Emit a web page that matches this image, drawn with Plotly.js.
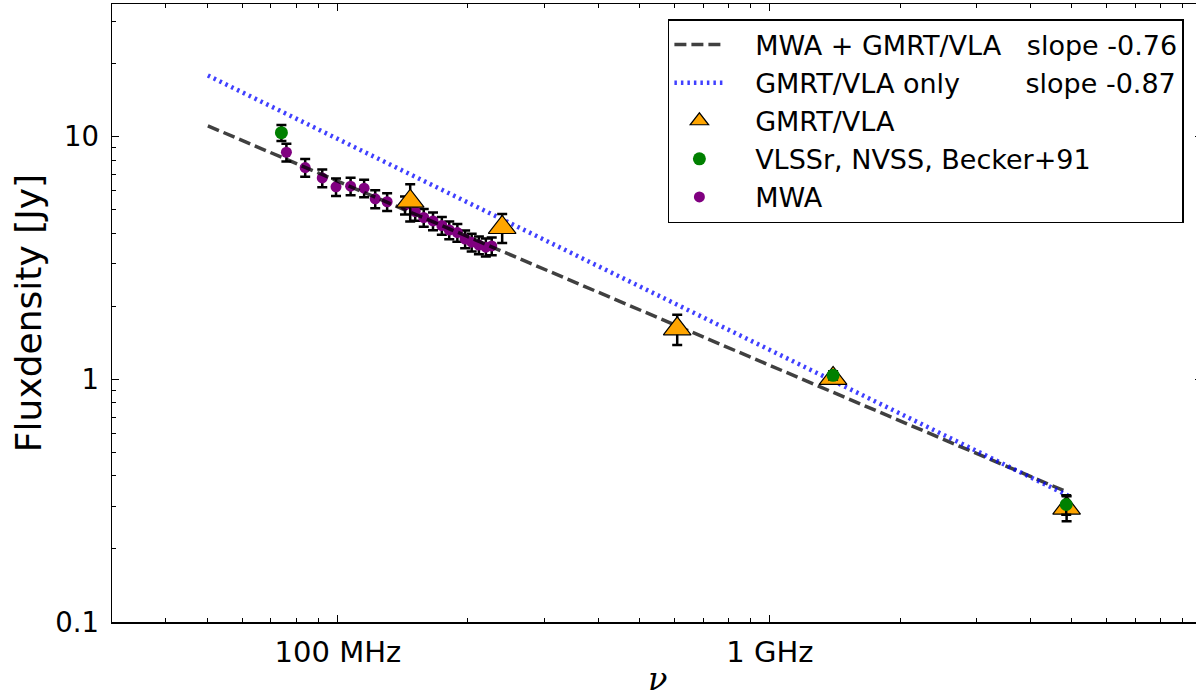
<!DOCTYPE html>
<html><head><meta charset="utf-8">
<script src="https://cdn.plot.ly/plotly-3.0.1.min.js"></script>
<style>html,body{margin:0;padding:0;overflow:hidden;background:#fff}#chart{width:1202px;height:697px}</style>
</head><body><div id="chart"></div>
<script>
// ---- data (frequency in MHz, flux density in Jy) ----
const mwaFreq = [76, 84, 92, 99, 107, 115, 122, 130, 143, 151, 158, 166, 174, 181, 189, 197, 204, 212, 220, 227];
const mwaFlux = [8.64, 7.47, 6.77, 6.22, 6.26, 6.14, 5.55, 5.40, 5.23, 4.92, 4.65, 4.50, 4.31, 4.13, 4.03, 3.79, 3.68, 3.58, 3.51, 3.55];
const mwaErr  = [0.72, 0.63, 0.57, 0.52, 0.52, 0.51, 0.47, 0.45, 0.44, 0.41, 0.39, 0.38, 0.36, 0.35, 0.34, 0.32, 0.31, 0.30, 0.30, 0.30];

const gmrtFreq = [147, 240, 610, 1400, 4860];
const gmrtFlux = [5.43, 4.23, 1.617, 1.01, 0.295];
const gmrtErr  = [0.95, 0.58, 0.23, 0.05, 0.035];

const surveyFreq = [74, 1400, 4850];
const surveyFlux = [10.4, 1.04, 0.305];
const surveyErr  = [0.78, 0.04, 0.028];

const fitAllFreq = [50, 4860];
const fitAllFlux = [11.1, 0.344];
const fitGmrtFreq = [50, 5000];
const fitGmrtFlux = [17.9, 0.326];

const xTickVals = [100, 1000];
const xTickText = ['100 MHz', '1 GHz'];
const xMinorVals = [40, 50, 60, 70, 80, 90, 200, 300, 400, 500, 600, 700, 800, 900, 2000, 3000, 4000, 5000, 6000, 7000, 8000, 9000];
const yTickVals = [0.1, 1, 10];
const yTickText = ['0.1', '1', '10'];
const yMinorVals = [0.2, 0.3, 0.4, 0.5, 0.6, 0.7, 0.8, 0.9, 2, 3, 4, 5, 6, 7, 8, 9, 20, 30];

const xTitle = '<i>ν</i>';
const yTitle = 'Fluxdensity [Jy]';

const NB = '\u00a0';
const legendAll = NB + NB + NB + 'MWA + GMRT/VLA' + NB + NB + NB + 'slope -0.76';
const legendGmrtFit = NB + NB + NB + 'GMRT/VLA only' + NB + NB + NB + NB + NB + NB + NB + '\u2009' + 'slope -0.87';
const legendGmrt = NB + NB + NB + 'GMRT/VLA';
const legendSurvey = NB + NB + NB + 'VLSSr, NVSS, Becker+91';
const legendMwa = NB + NB + NB + 'MWA';

const FONT = '"DejaVu Sans", sans-serif';

const traces = [
  {
    x: mwaFreq, y: mwaFlux, type: 'scatter', mode: 'markers', name: legendMwa,
    legendrank: 5, legendgroup: 'g5',
    marker: {symbol: 'circle', size: 11, color: '#800080', line: {width: 0}},
    error_y: {type: 'data', array: mwaErr, visible: true, color: 'black', thickness: 2.5, width: 5}
  },
  {
    x: fitAllFreq, y: fitAllFlux, type: 'scatter', mode: 'lines', name: legendAll,
    legendrank: 1, legendgroup: 'g1',
    line: {color: 'rgba(0,0,0,0.75)', width: 3.5, dash: '12px,5px'}
  },
  {
    x: fitGmrtFreq, y: fitGmrtFlux, type: 'scatter', mode: 'lines', name: legendGmrtFit,
    legendrank: 2, legendgroup: 'g2',
    line: {color: 'rgba(0,0,255,0.75)', width: 4.5, dash: '2.5px,4px'}
  },
  {
    x: gmrtFreq, y: gmrtFlux, type: 'scatter', mode: 'markers', name: legendGmrt,
    legendrank: 3, legendgroup: 'g3',
    marker: {symbol: 'triangle-up', size: 24, color: '#FFA500', line: {width: 1.2, color: 'black'}},
    error_y: {type: 'data', array: gmrtErr, visible: true, color: 'black', thickness: 2.5, width: 5}
  },
  {
    x: surveyFreq, y: surveyFlux, type: 'scatter', mode: 'markers', name: legendSurvey,
    legendrank: 4, legendgroup: 'g4',
    marker: {symbol: 'circle', size: 13, color: '#008000', line: {width: 0}},
    error_y: {type: 'data', array: surveyErr, visible: true, color: 'black', thickness: 2.5, width: 5}
  }
];

const axisCommon = {
  type: 'log', ticks: 'inside', ticklen: 7, tickwidth: 1, tickcolor: 'black',
  showline: true, linecolor: 'black', linewidth: 1.5, mirror: 'allticks',
  showgrid: false, zeroline: false, automargin: false
};

const layout = {
  width: 1202, height: 697,
  margin: {l: 112, r: 0, t: 4, b: 75, pad: 0},
  paper_bgcolor: 'white', plot_bgcolor: 'white',
  font: {family: FONT, color: 'black'},
  showlegend: true,
  legend: {
    x: 0.510, y: 0.9757, xanchor: 'left', yanchor: 'top',
    bgcolor: 'white', bordercolor: 'black', borderwidth: 1.5,
    font: {size: 27, family: FONT, color: 'black'},
    itemwidth: 50, tracegroupgap: 0, traceorder: 'grouped'
  },
  xaxis: Object.assign({}, axisCommon, {
    range: [Math.log10(30), 4],
    tickmode: 'array', tickvals: xTickVals, ticktext: xTickText,
    tickfont: {size: 29, family: FONT}, ticklabelstandoff: 4,
    minor: {tickmode: 'array', tickvals: xMinorVals, ticks: 'inside', ticklen: 4, tickcolor: 'black', tickwidth: 1, showgrid: false}
  }),
  yaxis: Object.assign({}, axisCommon, {
    range: [-1, 1.5476],
    tickmode: 'array', tickvals: yTickVals, ticktext: yTickText,
    tickfont: {size: 27.5, family: FONT}, ticklabelstandoff: 6,
    minor: {tickmode: 'array', tickvals: yMinorVals, ticks: 'inside', ticklen: 4, tickcolor: 'black', tickwidth: 1, showgrid: false},
    title: {text: yTitle, font: {size: 36, family: FONT}, standoff: 2}
  }),
  annotations: [{
    text: xTitle, xref: 'paper', yref: 'paper', x: 0.5, y: -0.093,
    xanchor: 'center', yanchor: 'middle', showarrow: false,
    font: {size: 32, family: '"DejaVu Serif", serif', color: 'black'}
  }]
};

Plotly.newPlot('chart', traces, layout, {displayModeBar: false, staticPlot: true});
</script></body></html>
